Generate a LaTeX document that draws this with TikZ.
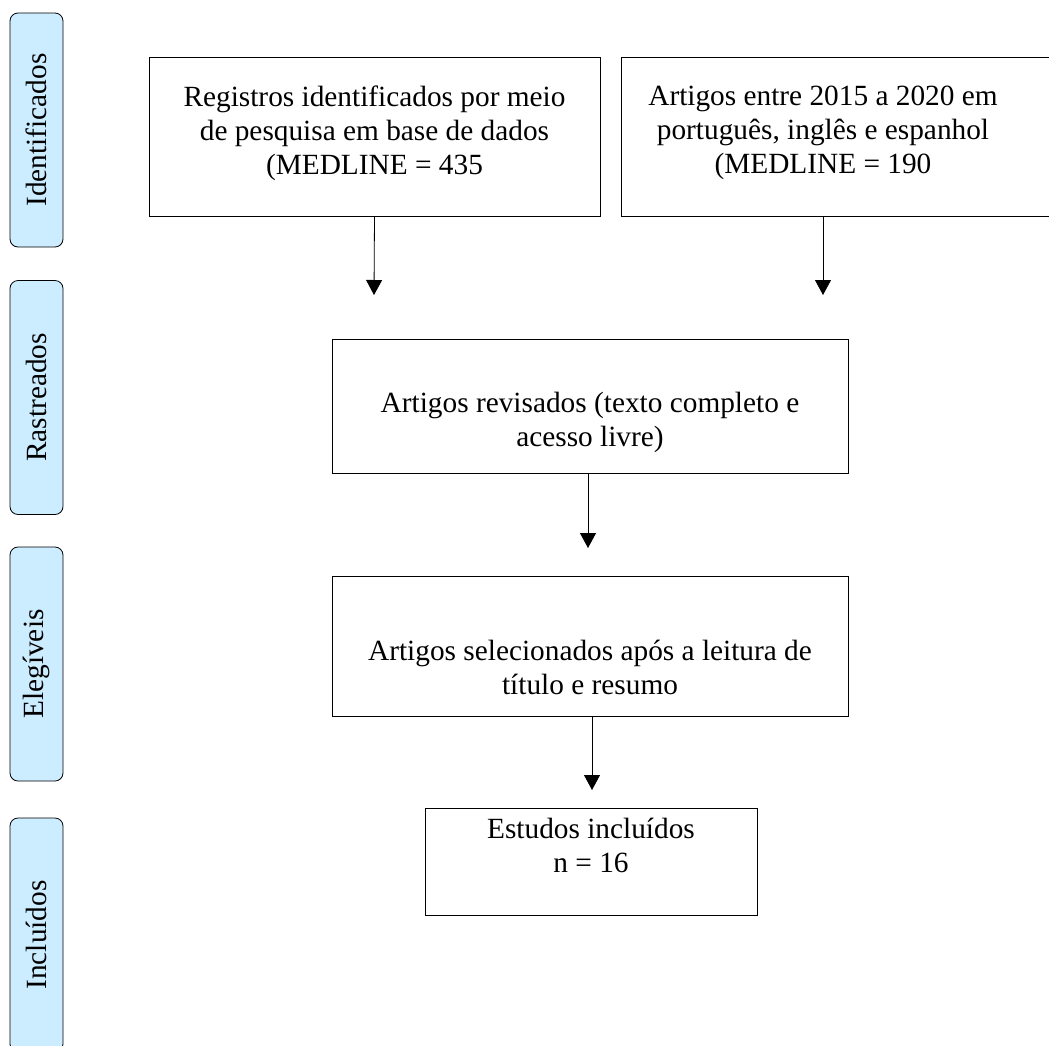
\documentclass[tikz,border=0pt]{standalone}
\usepackage{fontspec}
\setmainfont{Liberation Serif}
\usetikzlibrary{
  arrows.meta,
  positioning,  % Function "of"
}
\definecolor{stagefill}{RGB}{204,236,255}
\tikzset{
  x=0.5pt, y=-0.5pt,
  font=\fontsize{14.66}{17}\selectfont,
  line width=1.2pt,
  >={Triangle[width=8pt,length=7.5pt]},
  inv/.style={
    draw=none,
    inner sep=0pt,
    align=center
  },
  my stage/.style={
    draw,
    fill=stagefill,
    rounded corners=4pt,
    rotate=90,
    minimum width=117pt,
    minimum height=26.5pt,
    inner sep=0pt,
    rectangle
  },
  my box/.style={
    draw,
    inner sep=0pt,
    rectangle
  }
}

\begin{document}
\begin{tikzpicture}
\clip (0,0) rectangle (1049,1045);
% stages on the left
\node[my stage] (ident) at (36.5,130)   {Identificados};
\node[my stage] (rastr) at (36.5,397.5) {Rastreados};
\node[my stage] (eleg)  at (36.5,664)   {Elegíveis};
\node[my stage] (incl)  at (36.5,935)   {Incluídos};
% boxes
\node[my box,minimum width=225.5pt,minimum height=79.5pt] (registros) at (374.5,136.5) {};
\node[my box,minimum width=225.5pt,minimum height=79.5pt,anchor=north west] (artigos) at (621,57) {};
\node[my box,minimum width=258pt,minimum height=67pt] (revisados) at (590,406) {};
\node[my box,minimum width=258pt,minimum height=70pt] (selecionados) at (590,646) {};
\node[my box,minimum width=166pt,minimum height=53.5pt] (estudos) at (591,861.5) {};
% texts
\node[inv] (registros text) at (374.5,133) {Registros identificados por meio\\de pesquisa em base de dados\\(MEDLINE = 435};
\node[inv] (artigos text) at (823,133) {Artigos entre 2015 a 2020 em\\português, inglês e espanhol\\(MEDLINE = 190};
\node[inv] (revisados text) at (590,422) {Artigos revisados (texto completo e\\acesso livre)};
\node[inv] (selecionados text) at (590,667) {Artigos selecionados após a leitura de\\título e resumo};
\node[inv] (estudos text) at (591,845) {Estudos incluídos\\n = 16};
% arrow tips
\coordinate (tip1) at (374,295);
\coordinate (tip2) at (823,295);
\coordinate (tip3) at (588,548);
\coordinate (tip4) at (592,790);
\draw[->] (registros.south) -- (tip1);
\draw[->] (tip2 |- artigos.south) -- (tip2);
\draw[->] (tip3 |- revisados.south) -- (tip3);
\draw[->] (tip4 |- selecionados.south) -- (tip4);
\end{tikzpicture}
\end{document}
